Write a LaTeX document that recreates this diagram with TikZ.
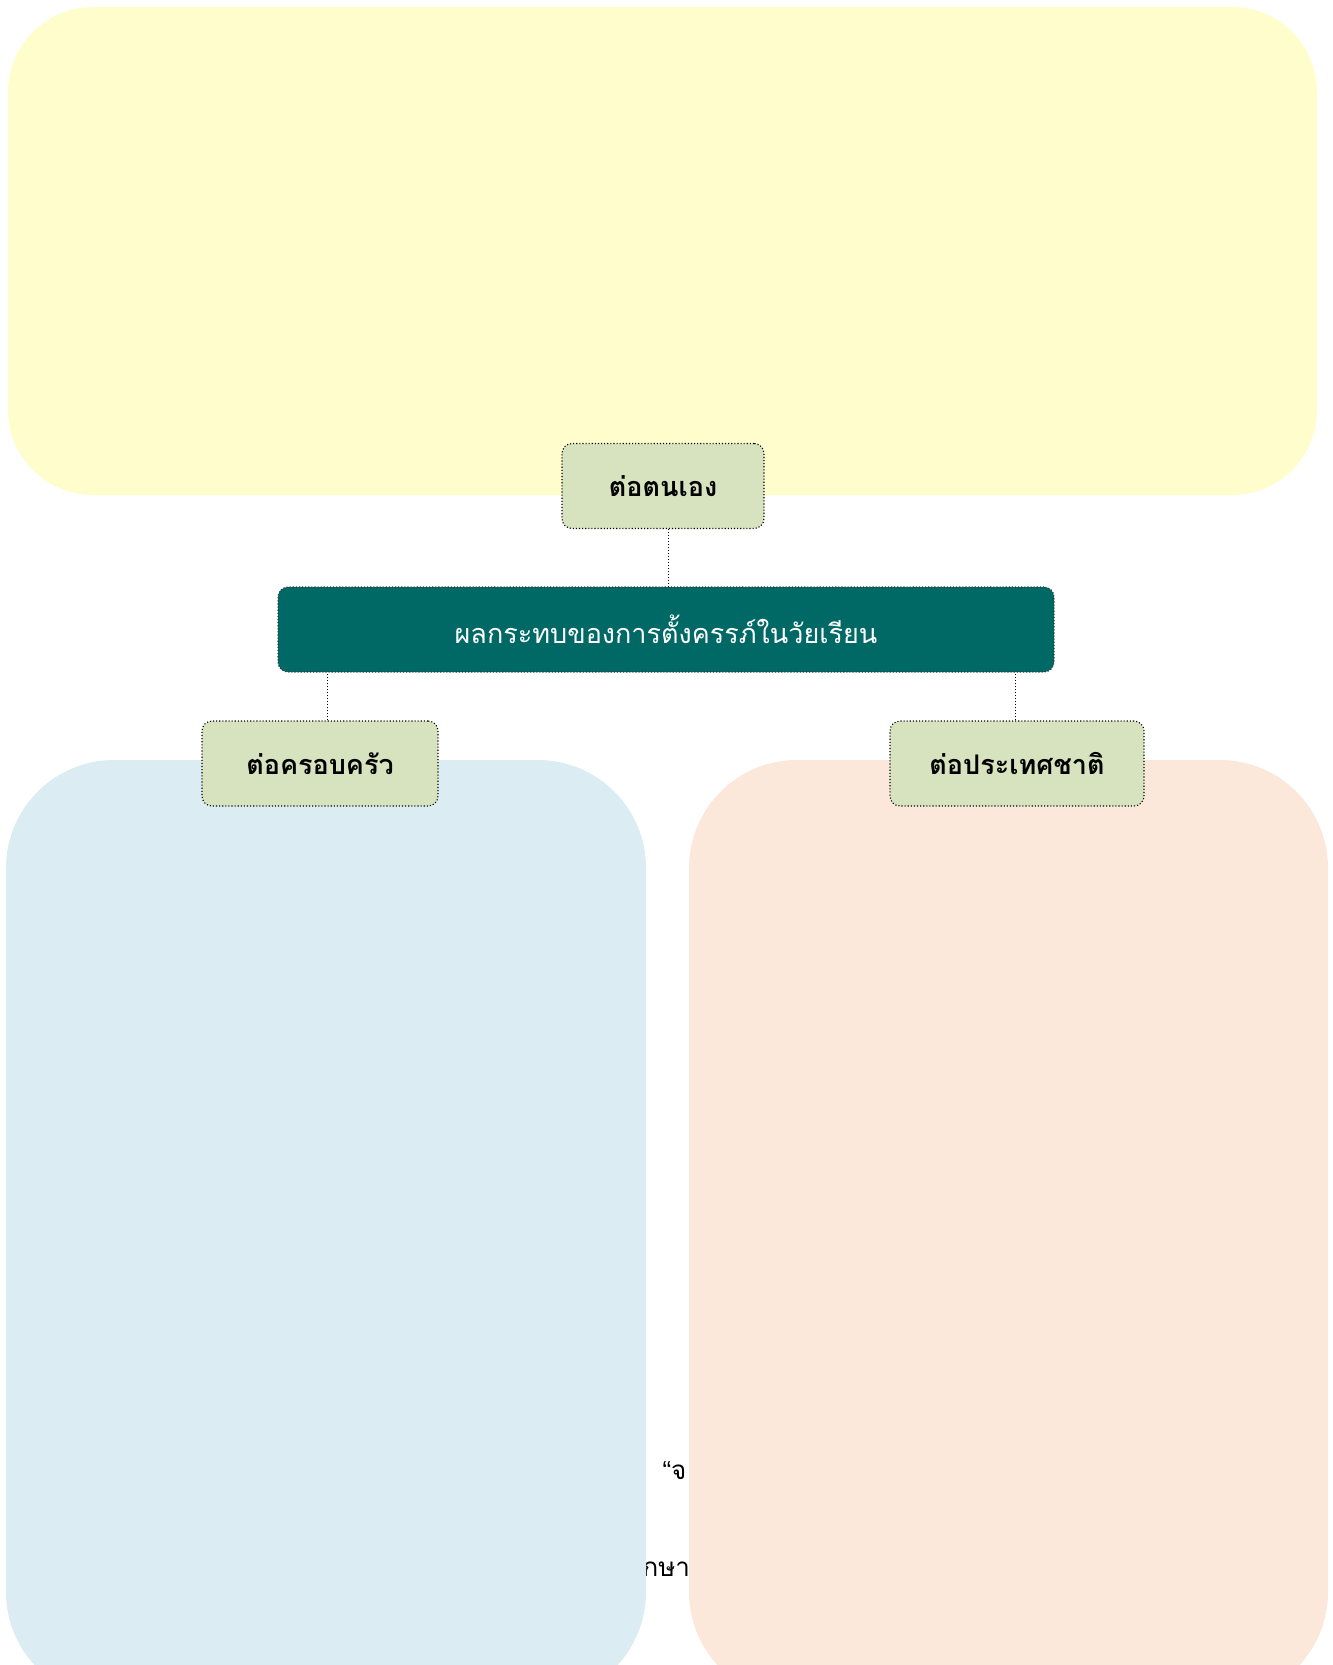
\documentclass[tikz,border=0pt]{standalone}
\usepackage{fontspec}
\newfontfamily\thaifont[Script=Thai]{Loma}
\newfontfamily\quotefont{Liberation Sans}
\usetikzlibrary{positioning}

\definecolor{paleyellow}{HTML}{FFFDCC}
\definecolor{paleblue}{HTML}{DBEDF2}
\definecolor{paleorange}{HTML}{FBE8DA}
\definecolor{topicgreen}{HTML}{D7E3BF}
\definecolor{darkteal}{HTML}{006966}

\tikzset{
  topic/.style={draw=black, dotted, line width=1.1, fill=topicgreen, rounded corners=10,
    minimum height=85, inner sep=0, font=\thaifont\bfseries\fontsize{27}{32}\selectfont},
  mainbox/.style={draw=black!80, dotted, line width=1.1, fill=darkteal, text=white, rounded corners=10,
    minimum width=776, minimum height=85, inner sep=0, font=\thaifont\fontsize{27}{32}\selectfont},
  link/.style={draw=black, dotted, line width=1}
}

\begin{document}
\begin{tikzpicture}[x=1pt, y=-1pt]
        \useasboundingbox (0,0) rectangle (1333,1665);

        % Hidden text behind the boxes
        \node[font=\thaifont\fontsize{26}{30}\selectfont, anchor=west] (quote) at (659,1471) {{\quotefont “}จ};
        \node[font=\thaifont\fontsize{26}{30}\selectfont, anchor=west] (note) at (639,1569) {กษา};

        % Background areas
        \fill[paleyellow, rounded corners=85] (8,7) rectangle (1317,495);
        \fill[paleblue, rounded corners=108] (6,760) rectangle (646,1700);
        \fill[paleorange, rounded corners=108] (689,760) rectangle (1328,1700);

        % Main topic
        \node[mainbox] (impact) at (666,629.5) {ผลกระทบของการตั้งครรภ์ในวัยเรียน};

        % Branches
        \node[topic, minimum width=202] (self) at (663,486) {ต่อตนเอง};
        \node[topic, minimum width=236] (family) at (320,763.5) {ต่อครอบครัว};
        \node[topic, minimum width=254] (nation) at (1017,763.5) {ต่อประเทศชาติ};

        % Links
        \draw[link] ([xshift=5]self.south) -- ([xshift=5]self.south |- impact.north);
        \draw[link] ([xshift=7]family.north) -- ([xshift=7]family.north |- impact.south);
        \draw[link] ([xshift=-2]nation.north) -- ([xshift=-2]nation.north |- impact.south);
\end{tikzpicture}
\end{document}
